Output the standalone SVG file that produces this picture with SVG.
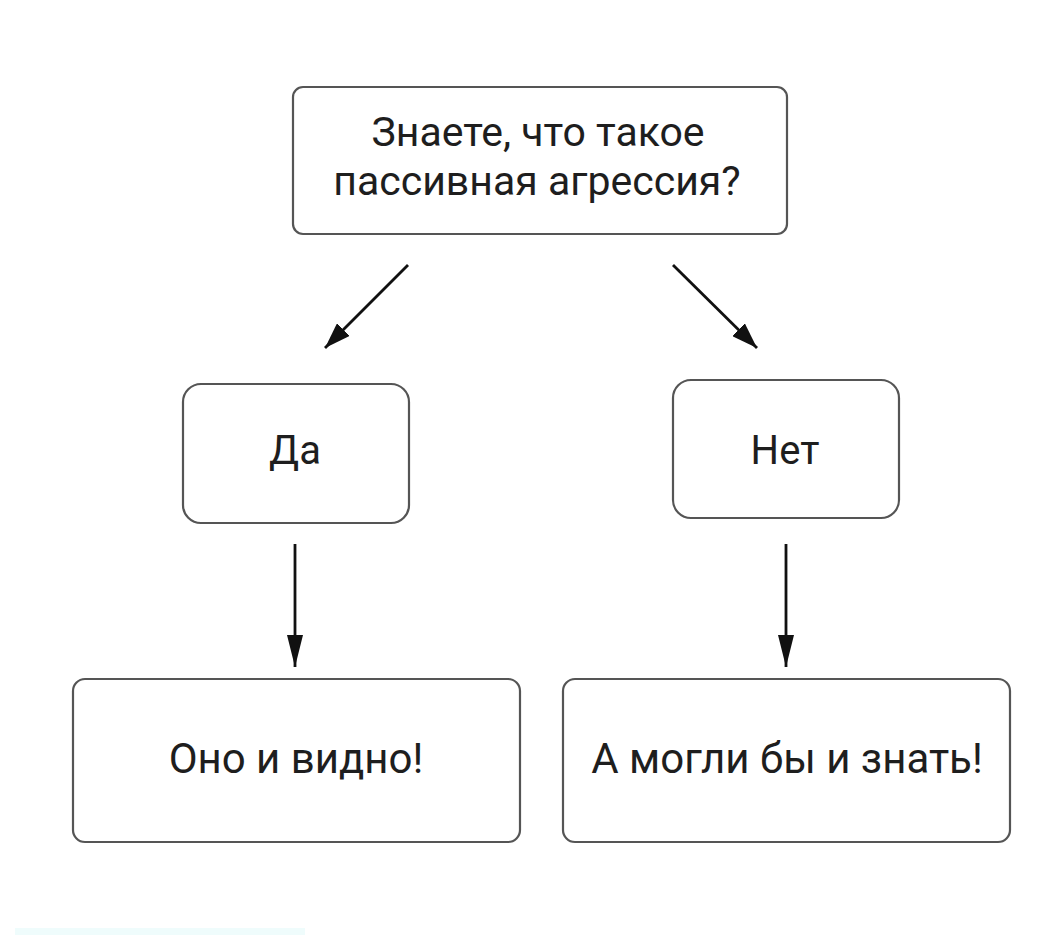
<svg xmlns="http://www.w3.org/2000/svg" width="1042" height="935" viewBox="0 0 1042 935">
<defs>
<style>
.box{fill:#fff;stroke:#555;stroke-width:2.2}
.t{font-family:Roboto,"Liberation Sans",sans-serif;fill:#1e1e1e;text-anchor:middle}
.c{stroke:#111;stroke-width:2.8;fill:none}
</style>
<marker id="ah" viewBox="0 0 32 16" refX="32" refY="8" markerWidth="32" markerHeight="16" markerUnits="userSpaceOnUse" orient="auto">
<path d="M0,0 L32,8 L0,16 Z" fill="#111"/>
</marker>
<marker id="ahd" viewBox="0 0 26 18" refX="26" refY="9" markerWidth="26" markerHeight="18" markerUnits="userSpaceOnUse" orient="auto">
<path d="M0,0 L26,9 L0,18 Z" fill="#111"/>
</marker>
</defs>
<rect width="1042" height="935" fill="#fff"/>
<rect x="15" y="928" width="290" height="7" fill="#effcfc"/>
<g id="q">
<rect class="box" x="293" y="87" width="494" height="147" rx="10"/>
<text class="t" x="538" y="146" font-size="41">Знаете, что такое</text>
<text class="t" x="537" y="195" font-size="41">пассивная агрессия?</text>
</g>
<g id="da">
<rect class="box" x="183" y="384" width="226" height="139" rx="18"/>
<text class="t" x="295" y="464" font-size="40">Да</text>
</g>
<g id="net">
<rect class="box" x="673" y="380" width="226" height="138" rx="18"/>
<text class="t" x="785" y="464" font-size="40">Нет</text>
</g>
<g id="a1">
<rect class="box" x="73" y="679" width="447" height="163" rx="12"/>
<text class="t" x="296" y="773" font-size="42">Оно и видно!</text>
</g>
<g id="a2">
<rect class="box" x="563" y="679" width="447" height="163" rx="12"/>
<text class="t" x="787" y="773" font-size="42">А могли бы и знать!</text>
</g>
<g id="connectors">
<line class="c" x1="408" y1="265" x2="325" y2="348" marker-end="url(#ahd)"/>
<line class="c" x1="673" y1="265" x2="757" y2="348" marker-end="url(#ahd)"/>
<line class="c" x1="295" y1="544" x2="295" y2="667" marker-end="url(#ah)"/>
<line class="c" x1="786" y1="544" x2="786" y2="667" marker-end="url(#ah)"/>
</g>
</svg>
